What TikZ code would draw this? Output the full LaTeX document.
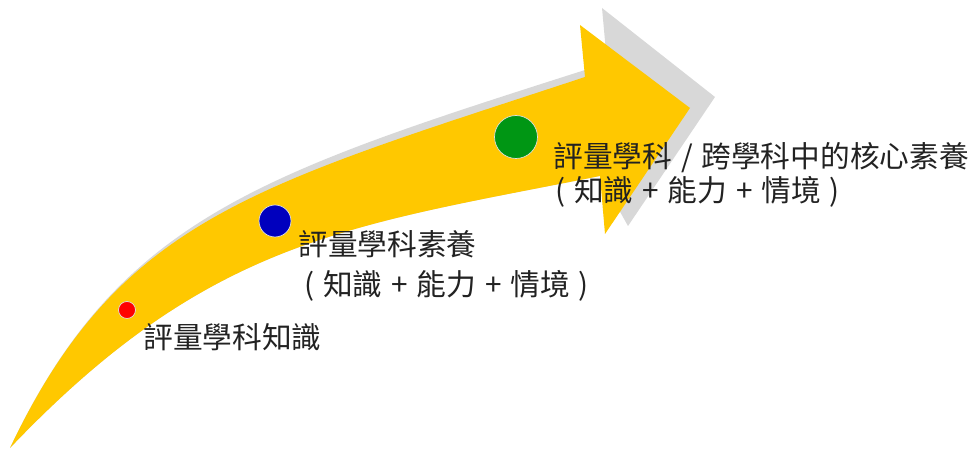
\documentclass[tikz,border=0pt]{standalone}
\usepackage{fontspec}
\setmainfont{Noto Sans CJK TC}
\usetikzlibrary{positioning}

\definecolor{arrowYellow}{RGB}{255,200,0}
\definecolor{shadowGray}{RGB}{216,216,216}
\definecolor{dotRed}{RGB}{255,0,0}
\definecolor{dotBlue}{RGB}{0,0,190}
\definecolor{dotGreen}{RGB}{0,150,20}
\definecolor{labelInk}{RGB}{34,34,34}

\def \labelFont {\fontsize{16.9}{20}\selectfont}
\def \noteGap {\hspace{0.3em}}

\tikzset{
  dot/.style={circle, inner sep=0pt, draw=white!75!gray, line width=0.4pt},
  lbl/.style={anchor=base west, inner sep=0pt, text=labelInk, font=\labelFont},
}

\begin{document}
\begin{tikzpicture}[x=0.02cm, y=0.02cm]
  \useasboundingbox (0,0) rectangle (975,449);
  % shadow behind the arrow
  \fill[shadowGray] (10,1) .. controls (120,234) and (265,277) .. (607,386)
    -- (602,441) -- (715,352) -- (628,223) -- (600,273)
    .. controls (350,223) and (210,211) .. (10,1) -- cycle;
  % the arrow
  \fill[arrowYellow] (10,1) .. controls (120,232) and (255,263) .. (585,372)
    -- (580,424) -- (690,341) -- (605,215) -- (600,273)
    .. controls (350,223) and (210,211) .. (10,1) -- cycle;

  \node[dot, fill=dotRed, minimum size=0.34cm] (redDot) at (127,139) {};
  \node[dot, fill=dotBlue, minimum size=0.64cm] (blueDot) at (275,228) {};
  \node[dot, fill=dotGreen, minimum size=0.86cm] (greenDot) at (516,312) {};

  \node[lbl] (redLabel) at (143,100) {評量學科知識};
  \node[lbl] (blueTitle) at (298,193) {評量學科素養};
  \node[lbl] (blueNote) at (304,153) {(\noteGap 知識\noteGap +\noteGap 能力\noteGap +\noteGap 情境\noteGap )};
  \node[lbl] (greenTitle) at (553,281) {評量學科\noteGap /\noteGap 跨學科中的核心素養};
  \node[lbl] (greenNote) at (555,247) {(\noteGap 知識\noteGap +\noteGap 能力\noteGap +\noteGap 情境\noteGap )};
\end{tikzpicture}
\end{document}
